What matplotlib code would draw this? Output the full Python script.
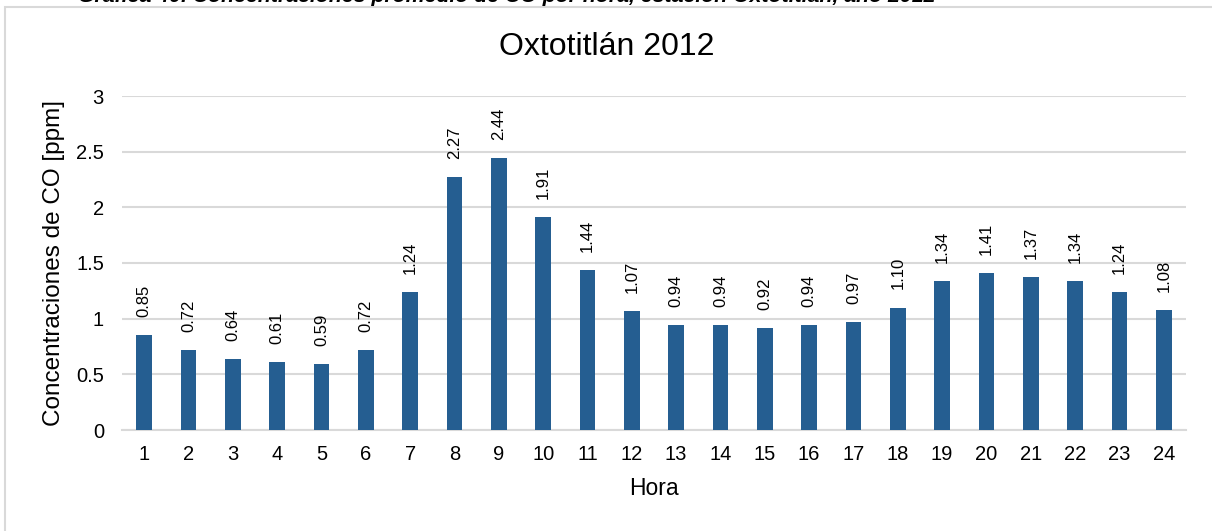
import matplotlib
matplotlib.use("Agg")
import matplotlib.pyplot as plt
from matplotlib.patches import Rectangle

hours = [str(h) for h in range(1, 25)]
values = [0.85, 0.72, 0.64, 0.61, 0.59, 0.72, 1.24, 2.27, 2.44, 1.91, 1.44, 1.07,
          0.94, 0.94, 0.92, 0.94, 0.97, 1.10, 1.34, 1.41, 1.37, 1.34, 1.24, 1.08]
yticks = [0, 0.5, 1, 1.5, 2, 2.5, 3]
ytick_labels = ["0", "0.5", "1", "1.5", "2", "2.5", "3"]

plt.rcParams['font.family'] = ['Liberation Sans', 'DejaVu Sans']

W, H = 1212, 531
fig = plt.figure(figsize=(W / 100, H / 100), dpi=100)

# outer chart frame
fig.patches.append(Rectangle((5 / W, -0.1), 1.2, 1 - 7 / H + 0.1, transform=fig.transFigure,
                             fill=False, edgecolor='#D9D9D9', linewidth=1.5))

# cut-off document caption at top
fig.text(507 / W, 1 + 3 / H, "Gráfica 40. Concentraciones promedio de CO por hora, estación Oxtotitlán, año 2012",
         ha='center', va='center', fontsize=15.3, fontweight='bold', fontstyle='italic', color='black')

ax = fig.add_axes([122 / W, 1 - 430 / H, (1186 - 122) / W, (430 - 96) / H])
x = list(range(1, 25))
bars = ax.bar(x, values, width=0.36, color='#255E91', zorder=3)
for xi, v in zip(x, values):
    ax.annotate(f"{v:.2f}", (xi, v), xytext=(0, 13), textcoords='offset points',
                rotation=90, ha='center', va='bottom', fontsize=12, color='black')

ax.set_xlim(0.5, 24.5)
ax.set_ylim(0, 3)
ax.set_yticks(yticks)
ax.set_yticklabels(ytick_labels)
ax.set_xticks(x)
ax.set_xticklabels(hours)
ax.tick_params(axis='both', length=0, labelsize=14.5, colors='black')
ax.tick_params(axis='x', pad=11)
ax.tick_params(axis='y', pad=13)
ax.grid(axis='y', color='#D9D9D9', linewidth=1.5, zorder=0)
for s in ['top', 'right', 'left']:
    ax.spines[s].set_visible(False)
ax.spines['bottom'].set_color('#D9D9D9')
ax.spines['bottom'].set_linewidth(1.5)

ax.set_xlabel("Hora", fontsize=16.5, labelpad=9)
ax.set_ylabel("Concentraciones de CO [ppm]", fontsize=17.5, labelpad=8)
fig.text(607 / W, 1 - 47 / H, "Oxtotitlán 2012", ha='center', va='center', fontsize=23, color='black')

fig.savefig("out.png", dpi=100)
